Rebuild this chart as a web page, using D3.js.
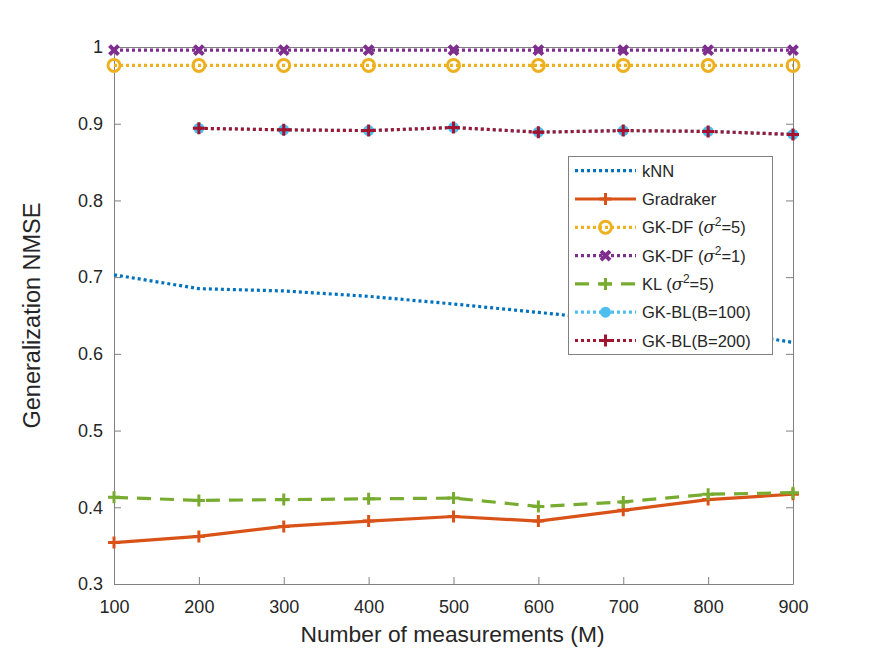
<!DOCTYPE html>
<html>
<head>
<meta charset="utf-8">
<script src="https://cdn.jsdelivr.net/npm/d3@7"></script>
<style>
  body { margin: 0; background: #fff; }
  text { font-family: "Liberation Sans", Arial, sans-serif; }
</style>
</head>
<body>
<div id="plot"></div>
<script>
// measurements M
const xs = [100, 200, 300, 400, 500, 600, 700, 800, 900];
const xsBL = [200, 300, 400, 500, 600, 700, 800, 900];

const knn = [0.703, 0.685, 0.682, 0.675, 0.665, 0.654, 0.643, 0.632, 0.615];
const gradraker = [0.354, 0.362, 0.375, 0.382, 0.388, 0.382, 0.396, 0.410, 0.417];
const gkdf5 = [0.976, 0.976, 0.976, 0.976, 0.976, 0.976, 0.976, 0.976, 0.976];
const gkdf1 = [0.996, 0.996, 0.996, 0.996, 0.996, 0.996, 0.996, 0.996, 0.996];
const kl5 = [0.413, 0.409, 0.410, 0.411, 0.412, 0.401, 0.407, 0.417, 0.419];
const gkbl100 = [0.894, 0.892, 0.891, 0.895, 0.889, 0.891, 0.890, 0.886];
const gkbl200 = [0.894, 0.892, 0.891, 0.895, 0.889, 0.891, 0.890, 0.886];

const xTicks = [100, 200, 300, 400, 500, 600, 700, 800, 900];
const yTicks = [0.3, 0.4, 0.5, 0.6, 0.7, 0.8, 0.9, 1];

const width = 875, height = 657;
const margin = {top: 47, right: 82, bottom: 73, left: 114};

const svg = d3.select('#plot').append('svg')
    .attr('width', width)
    .attr('height', height);

const x = d3.scaleLinear().domain([100, 900]).range([margin.left, width - margin.right]);
const y = d3.scaleLinear().domain([0.3, 1]).range([height - margin.bottom, margin.top]);

const axisColor = '#808080';
const textColor = '#262626';
const tickLen = 7;

// axes with inward ticks on all four sides
function styleAxis(g) {
    g.select('.domain').attr('stroke', axisColor);
    g.selectAll('.tick line').attr('stroke', axisColor);
    g.selectAll('.tick text').attr('fill', textColor).attr('font-size', '18px');
}
svg.append('g')
    .attr('transform', `translate(0,${y(0.3)})`)
    .call(d3.axisBottom(x).tickValues(xTicks).tickSizeInner(-tickLen).tickSizeOuter(0).tickPadding(16).tickFormat(d3.format('d')))
    .call(styleAxis);
svg.append('g')
    .attr('transform', `translate(0,${y(1)})`)
    .call(d3.axisTop(x).tickValues(xTicks).tickSizeInner(-tickLen).tickSizeOuter(0).tickFormat(''))
    .call(styleAxis);
svg.append('g')
    .attr('transform', `translate(${x(100)},0)`)
    .call(d3.axisLeft(y).tickValues(yTicks).tickSizeInner(-tickLen).tickSizeOuter(0).tickPadding(11).tickFormat(d => d === 1 ? '1' : d3.format('.1f')(d)))
    .call(styleAxis);
svg.append('g')
    .attr('transform', `translate(${x(900)},0)`)
    .call(d3.axisRight(y).tickValues(yTicks).tickSizeInner(-tickLen).tickSizeOuter(0).tickFormat(''))
    .call(styleAxis);

svg.append('text')
    .attr('x', (x(100) + x(900)) / 2 - 1).attr('y', 642)
    .attr('text-anchor', 'middle').attr('fill', textColor).attr('font-size', '22.8px')
    .text('Number of measurements (M)');
svg.append('text')
    .attr('transform', `translate(40,${(y(0.3) + y(1)) / 2}) rotate(-90)`)
    .attr('text-anchor', 'middle').attr('fill', textColor).attr('font-size', '23.5px')
    .text('Generalization NMSE');

// marker drawing
function marker(g, type, color, cx, cy) {
    if (type === 'plus') {
        g.append('path').attr('d', `M${cx - 6},${cy}H${cx + 6}M${cx},${cy - 6}V${cy + 6}`)
            .attr('stroke', color).attr('stroke-width', 3).attr('fill', 'none');
    } else if (type === 'circle') {
        g.append('circle').attr('cx', cx).attr('cy', cy).attr('r', 6)
            .attr('stroke', color).attr('stroke-width', 3).attr('fill', 'none');
    } else if (type === 'dot') {
        g.append('circle').attr('cx', cx).attr('cy', cy).attr('r', 5.5).attr('fill', color);
    } else if (type === 'x') {
        g.append('path').attr('d', `M${cx - 4.5},${cy - 4.5}L${cx + 4.5},${cy + 4.5}M${cx - 4.5},${cy + 4.5}L${cx + 4.5},${cy - 4.5}`)
            .attr('stroke', color).attr('stroke-width', 4).attr('fill', 'none');
    }
}

const series = [
    {name: 'kNN', xv: xs, yv: knn, color: '#0072BD', dash: '3,3', mk: null},
    {name: 'Gradraker', xv: xs, yv: gradraker, color: '#D95319', dash: null, mk: 'plus'},
    {name: 'GK-DF (σ2=5)', sig: '5', xv: xs, yv: gkdf5, color: '#EDB120', dash: '3,3', mk: 'circle'},
    {name: 'GK-DF (σ2=1)', sig: '1', xv: xs, yv: gkdf1, color: '#7E2F8E', dash: '3,3', mk: 'x'},
    {name: 'KL (σ2=5)', sig: '5', xv: xs, yv: kl5, color: '#77AC30', dash: '14,9', mk: 'plus'},
    {name: 'GK-BL(B=100)', xv: xsBL, yv: gkbl100, color: '#4DBEEE', dash: '3,3', mk: 'dot'},
    {name: 'GK-BL(B=200)', xv: xsBL, yv: gkbl200, color: '#A2142F', dash: '3,3', mk: 'plus'}
];

const line = d3.line().x(d => x(d[0])).y(d => y(d[1]));
const plot = svg.append('g');
series.forEach(s => {
    const pts = s.xv.map((v, i) => [v, s.yv[i]]);
    const g = plot.append('g');
    g.append('path').datum(pts).attr('d', line)
        .attr('fill', 'none').attr('stroke', s.color).attr('stroke-width', 3.2)
        .attr('stroke-dasharray', s.dash);
    if (s.mk) pts.forEach(p => marker(g, s.mk, s.color, x(p[0]), y(p[1])));
});

// legend
const lg = svg.append('g');
lg.append('rect').attr('x', 568.5).attr('y', 156.5).attr('width', 204).attr('height', 198)
    .attr('fill', '#fff').attr('stroke', axisColor).attr('stroke-width', 1);
series.forEach((s, i) => {
    const ly = 170.7 + i * 28.3;
    lg.append('line').attr('x1', 575).attr('x2', 636).attr('y1', ly).attr('y2', ly)
        .attr('stroke', s.color).attr('stroke-width', 3.2).attr('stroke-dasharray', s.dash);
    if (s.mk) marker(lg, s.mk, s.color, 605.5, ly);
    const t = lg.append('text').attr('x', 642).attr('y', ly + 6)
        .attr('fill', textColor).attr('font-size', '16.5px');
    if (s.sig) {
        const pre = s.name.split('(')[0];
        t.append('tspan').text(pre + '(');
        t.append('tspan').attr('font-family', '"DejaVu Serif", serif').attr('font-style', 'italic').text('σ');
        t.append('tspan').attr('dy', -7).attr('font-size', '12px').text('2');
        t.append('tspan').attr('dy', 7).text('=' + s.sig + ')');
    } else {
        t.text(s.name);
    }
});
</script>
</body>
</html>
